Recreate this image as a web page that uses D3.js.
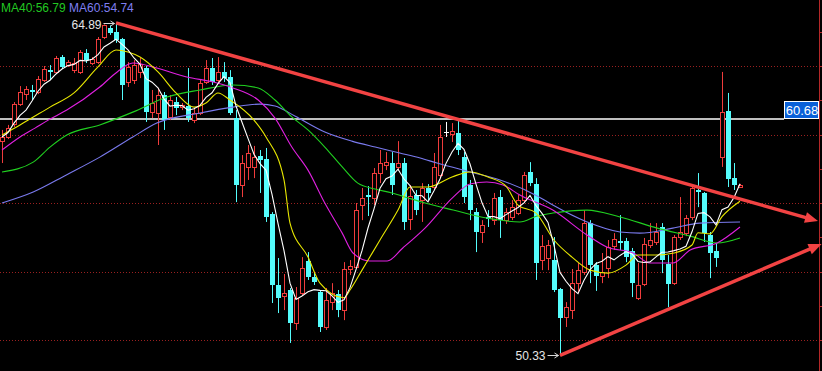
<!DOCTYPE html>
<html>
<head>
<meta charset="utf-8">
<script src="https://cdn.jsdelivr.net/npm/d3@7"></script>
<style>
  html, body { margin: 0; padding: 0; background: #000; overflow: hidden; }
  svg { display: block; }
</style>
</head>
<body>
<div id="chart"></div>
<script>
// candle data (one entry per bar)
const opens = [59.71,59.89,60.46,61.33,61.77,61.95,61.86,62.39,62.82,62.74, 63.39,63.04,62.82,62.74,63.57,63.13,63.17,64.27,64.66,64.49,
  64.18,62.30,62.39,62.74,62.91,60.98,60.94,61.73,60.77,61.42, 61.20,61.25,60.63,60.94,62.30,62.91,62.39,62.74,62.52,60.72,
  57.79,58.58,58.58,59.06,58.93,56.52,53.41,52.93,53.19,51.74, 53.06,54.46,53.76,53.10,51.57,52.66,53.01,52.31,54.11,54.20,
  56.91,57.35,57.22,58.31,58.66,58.75,58.58,58.75,56.30,57.35, 57.13,57.66,57.70,58.24,60.11,60.02,60.06,59.01,57.79,56.60,
  55.73,56.39,56.25,57.26,56.25,56.39,56.56,57.13,58.36,57.83, 54.50,54.59,54.50,53.23,52.00,52.31,53.49,53.98,56.12,54.28,
  53.80,54.15,55.12,55.33,55.33,54.90,52.84,53.45,55.16,55.29, 55.95,54.33,53.49,55.51,55.68,56.39,57.57,57.44,55.60,54.90,
  59.01,61.03,58.09,57.70];
const highs = [60.20,60.42,61.42,62.12,62.12,62.17,62.56,63.00,63.04,63.44, 63.48,63.26,63.35,63.70,63.74,63.39,64.27,64.82,64.78,64.89,
  64.23,63.17,63.26,63.35,63.00,61.95,62.04,61.86,61.73,61.64, 61.38,62.91,61.16,62.39,63.26,63.35,63.39,63.17,62.82,61.07,
  59.10,59.54,59.50,59.32,59.41,56.60,54.59,53.89,53.28,53.32, 54.63,54.85,53.98,53.19,53.28,53.49,53.19,54.41,54.50,57.00,
  57.66,57.74,58.53,59.32,59.23,59.23,59.71,58.97,57.79,57.57, 57.87,57.83,59.19,60.42,60.55,60.50,60.59,59.23,58.01,56.78,
  56.25,56.69,57.44,57.57,56.78,57.13,57.35,58.36,58.79,58.09, 55.60,55.38,55.51,53.28,52.66,54.11,54.37,56.69,56.25,54.41,
  54.81,55.38,55.68,56.47,55.47,55.03,54.37,55.47,56.12,56.12, 56.12,54.72,55.60,57.26,56.47,57.70,58.31,57.48,55.73,55.25,
  62.74,61.82,58.75,57.83];
const lows = [58.75,59.80,60.33,61.25,61.51,61.51,61.77,62.30,62.39,62.65, 62.87,62.96,62.69,62.65,63.13,63.04,63.09,64.18,64.36,64.01,
  61.51,62.08,62.21,62.47,60.55,60.72,59.54,60.20,60.63,60.85, 61.07,60.55,60.50,60.85,62.21,62.17,62.26,62.30,60.85,57.04,
  57.26,58.01,58.09,57.44,56.17,52.62,52.18,52.31,50.87,51.44, 52.97,53.63,53.41,51.35,51.44,52.31,52.00,51.87,53.85,54.15,
  56.25,56.43,56.91,57.87,58.44,57.35,58.44,55.82,55.82,56.47, 56.17,57.13,57.57,58.09,59.89,59.67,59.10,57.00,56.25,54.85,
  55.25,55.95,56.04,55.47,56.08,56.25,56.47,57.00,57.74,53.63, 54.06,54.06,53.10,50.33,51.57,51.92,53.06,53.85,53.49,53.15,
  53.49,53.71,54.94,54.94,54.41,52.88,52.75,53.36,55.03,55.16, 53.93,52.44,53.41,55.38,55.55,56.25,56.82,55.29,53.71,54.20,
  58.58,57.70,57.57,57.66];
const closes = [59.89,60.28,61.33,61.86,61.99,61.86,62.43,62.87,62.74,63.35, 62.96,63.17,63.13,63.61,63.26,63.31,64.18,64.80,64.44,64.14,
  62.17,62.96,63.04,63.09,60.98,61.38,61.73,60.63,61.51,61.16, 61.29,60.72,60.94,62.26,62.91,62.30,62.74,62.47,60.94,57.79,
  58.75,59.19,59.01,58.88,56.39,53.41,52.84,53.06,51.74,52.84, 54.15,53.76,53.54,51.57,52.75,53.06,52.31,54.11,54.24,56.69,
  57.22,57.26,58.31,58.75,58.79,57.79,58.75,56.17,57.31,56.69, 57.66,57.44,58.58,59.89,60.11,60.15,59.32,57.26,56.69,55.73,
  56.04,56.34,57.22,56.25,56.60,56.82,57.13,58.24,57.87,54.37, 55.12,55.16,53.19,51.96,52.44,53.49,54.06,56.12,54.28,53.80,
  53.98,55.07,55.42,55.25,54.63,53.49,53.41,55.20,55.38,55.73, 54.50,53.45,55.51,55.73,56.34,57.66,57.48,55.68,54.81,54.59,
  60.98,58.05,57.79,57.79];

// longer moving averages: [bar index, value]
const ma10 = [[0,59.98],[3,60.42],[8,61.20],[12,61.82],[16,62.96],[19,63.70],[21,63.61],[23,63.39],[26,62.74],[29,61.82],
  [32,61.20],[34,61.38],[36,61.82],[38,61.51],[42,60.63],[44,59.89],[47,58.01],[48,56.12],[51,54.63],[53,53.49],
  [57,52.85],[58,53.19],[60,54.06],[63,55.38],[66,56.69],[68,57.70],[71,57.70],[75,58.14],[78,58.36],[81,58.14],
  [84,57.74],[86,56.91],[89,56.56],[92,55.38],[95,54.63],[98,54.06],[101,53.93],[104,54.28],[106,54.72],[109,54.72],
  [112,54.81],[115,55.16],[116,55.70],[118,55.65],[120,56.40],[123,57.08]];
const ma20 = [[0,59.32],[3,59.89],[5.5,60.28],[7.7,60.63],[10.8,61.07],[16.3,62.08],[19.2,62.74],[21.8,63.13],[25.8,62.91],[30.8,62.52],
  [35.2,62.30],[38.5,62.04],[42.7,61.51],[45.5,60.72],[48.3,59.45],[51,58.44],[53.8,57.00],[56.7,55.68],[58.5,54.81],[61.3,54.46],
  [64.2,54.46],[66.8,55.03],[70.5,55.90],[75.2,57.26],[78,57.83],[80.8,57.92],[83.5,57.79],[86.3,57.35],[91.8,56.69],[97.5,55.60],
  [100.8,55.07],[105.2,54.81],[108,54.37],[111.8,54.37],[114.7,54.94],[119.2,55.25],[123,55.95]];
const ma40 = [[0,58.36],[5.2,58.79],[8,59.45],[10.8,59.98],[16.3,60.42],[21.8,60.98],[27.5,61.64],[33,61.95],[38.5,62.17],[42.7,62.04],
  [45.5,61.51],[48.3,60.77],[51,60.20],[53.8,59.45],[56.7,58.58],[59.3,57.87],[62.2,57.61],[65,57.44],[67.7,57.22],[70.5,57.00],
  [75.2,56.69],[80.8,56.34],[86.3,56.17],[89.2,56.43],[91.8,56.56],[97.5,56.69],[103,56.39],[109.2,55.90],[114.7,55.55],[119.2,55.25],
  [123,55.47]];
const ma60 = [[0,57.00],[5.2,57.48],[10.8,58.24],[16.3,59.01],[21.8,59.89],[25.8,60.50],[33,60.94],[38.5,61.20],[43,61.33],[45.5,61.25],
  [48.8,60.81],[53.8,60.11],[58.3,59.71],[62.2,59.45],[66.3,59.19],[69.7,58.97],[72.5,58.75],[78,58.36],[83,58.01],[89.2,57.31],
  [91.8,56.91],[97.5,56.17],[103,55.73],[106.3,55.68],[111.8,55.90],[116.3,56.12],[123,56.17]];

const gridPrices = [63, 60, 57, 54, 51];
const legendLabels = ["MA40:56.79", "MA60:54.74"];
const legendColors = ["#22c822", "#7f7ff0"];
const lastPrice = 60.68;
const highMark = [19, 64.89];
const lowMark = [93, 50.33];
// hand drawn trend lines, [bar index, price] start and end
const trendLines = [[[19, 64.89], [136, 56.21]], [[93, 50.33], [136.6, 55.2]]];

const W = 822, H = 371;
const upColor = "#f03c3c", downColor = "#54fcfc";

const svg = d3.select("#chart")
    .append("svg")
    .attr("width", W)
    .attr("height", H)
    .style("background", "#000");

const x = d3.scaleLinear().domain([0, opens.length - 1]).range([2, 740]);
const y = d3.scaleLinear().domain([51, 63]).range([340, 66]);

// dotted grid
svg.append("g")
    .selectAll("line")
    .data(gridPrices)
    .join("line")
    .attr("x1", 0).attr("x2", 819)
    .attr("y1", d => Math.round(y(d)) + 0.5)
    .attr("y2", d => Math.round(y(d)) + 0.5)
    .attr("stroke", "#9a2020")
    .attr("stroke-dasharray", "1,2");

// right axis line + ticks
svg.append("line")
    .attr("x1", 819.5).attr("x2", 819.5).attr("y1", 0).attr("y2", H)
    .attr("stroke", "#b42828");
svg.append("g")
    .selectAll("line")
    .data(d3.range(49.5, 66, 1.5))
    .join("line")
    .attr("x1", 819).attr("x2", 823)
    .attr("y1", d => Math.round(y(d)) + 0.5)
    .attr("y2", d => Math.round(y(d)) + 0.5)
    .attr("stroke", "#b42828");

// last price line
svg.append("line")
    .attr("x1", 0).attr("x2", 784)
    .attr("y1", y(lastPrice)).attr("y2", y(lastPrice))
    .attr("stroke", "#ffffff")
    .attr("stroke-width", 1.5);

// candles
const bars = d3.range(opens.length).map(i => ({ i, o: opens[i], h: highs[i], l: lows[i], c: closes[i] }));
const cg = svg.append("g");
bars.forEach(d => {
    const cx = Math.round(x(d.i));
    const top = Math.round(y(Math.max(d.o, d.c)));
    const bot = Math.round(y(Math.min(d.o, d.c)));
    const col = d.c > d.o ? upColor : d.c < d.o ? downColor : "#ffffff";
    if (d.c === d.o) {
        cg.append("line").attr("x1", cx + 0.5).attr("x2", cx + 0.5)
            .attr("y1", y(d.h)).attr("y2", y(d.l)).attr("stroke", col);
        cg.append("line").attr("x1", cx - 2).attr("x2", cx + 3)
            .attr("y1", top + 0.5).attr("y2", top + 0.5).attr("stroke", col);
    } else if (d.c > d.o) {
        // hollow red body, wick stops at the body
        cg.append("line").attr("x1", cx + 0.5).attr("x2", cx + 0.5)
            .attr("y1", y(d.h)).attr("y2", top).attr("stroke", col);
        cg.append("line").attr("x1", cx + 0.5).attr("x2", cx + 0.5)
            .attr("y1", bot).attr("y2", y(d.l)).attr("stroke", col);
        cg.append("rect")
            .attr("x", cx - 1.5).attr("y", top + 0.5)
            .attr("width", 4).attr("height", Math.max(1, bot - top))
            .attr("fill", "#000").attr("stroke", col);
    } else {
        cg.append("line").attr("x1", cx + 0.5).attr("x2", cx + 0.5)
            .attr("y1", y(d.h)).attr("y2", y(d.l)).attr("stroke", col);
        cg.append("rect")
            .attr("x", cx - 2).attr("y", top)
            .attr("width", 5).attr("height", Math.max(2, bot - top))
            .attr("fill", col);
    }
});

// moving averages
const ma5 = closes.map((c, i) => [i, d3.mean(closes.slice(Math.max(0, i - 4), i + 1))]);
const line = d3.line().x(d => x(d[0])).y(d => y(d[1]));
const smooth = d3.line().x(d => x(d[0])).y(d => y(d[1])).curve(d3.curveMonotoneX);

[[ma60, "#7a7aee"], [ma40, "#20d020"], [ma20, "#e020e0"], [ma10, "#e8e800"]].forEach(([s, col]) => {
    svg.append("path").attr("d", smooth(s))
        .attr("fill", "none").attr("stroke", col).attr("stroke-width", 1.1);
});
svg.append("path").attr("d", line(ma5))
    .attr("fill", "none").attr("stroke", "#ffffff").attr("stroke-width", 1.1);

// trend lines with arrow heads
trendLines.forEach(t => {
    const sx = x(t[0][0]), sy = y(t[0][1]);
    const ex = x(t[1][0]), ey = y(t[1][1]);
    const len = Math.hypot(ex - sx, ey - sy);
    const ux = (ex - sx) / len, uy = (ey - sy) / len;
    svg.append("line")
        .attr("x1", sx).attr("y1", sy)
        .attr("x2", ex - ux * 8).attr("y2", ey - uy * 8)
        .attr("stroke", "#f24343").attr("stroke-width", 3.5);
    const bx = ex - ux * 13, by = ey - uy * 13;
    svg.append("path")
        .attr("d", `M${ex},${ey}L${bx - uy * 5.5},${by + ux * 5.5}L${bx + uy * 5.5},${by - ux * 5.5}Z`)
        .attr("fill", "#f24343");
});

// high / low markers
function mark(m, dy) {
    const mx = x(m[0]) - 0.5, my = Math.round(y(m[1])) + 0.5;
    svg.append("line").attr("x1", mx - 12).attr("x2", mx - 1).attr("y1", my).attr("y2", my)
        .attr("stroke", "#d8d8d8");
    svg.append("path").attr("d", `M${mx - 5},${my - 2.5}L${mx - 1},${my}L${mx - 5},${my + 2.5}`)
        .attr("fill", "none").attr("stroke", "#d8d8d8");
    svg.append("text")
        .attr("x", mx - 14).attr("y", my + dy)
        .attr("text-anchor", "end")
        .attr("fill", "#e6e6e6")
        .style("font", "12px 'Liberation Sans', Arial, sans-serif")
        .text(m[1].toFixed(2));
}
mark(highMark, 5);
mark(lowMark, 4.5);

// last price tag
svg.append("rect")
    .attr("x", 784.5).attr("y", 101.5).attr("width", 34).attr("height", 17)
    .attr("fill", "#0a60d8").attr("stroke", "#ffffff");
svg.append("text")
    .attr("x", 802).attr("y", 115)
    .attr("text-anchor", "middle")
    .attr("fill", "#ffffff")
    .style("font", "13px 'Liberation Sans', Arial, sans-serif")
    .text(lastPrice.toFixed(2));

// legend
const lg = svg.append("text")
    .attr("x", 1).attr("y", 12)
    .style("font", "12px 'Liberation Sans', Arial, sans-serif");
legendLabels.forEach((t, k) => {
    lg.append("tspan").attr("fill", legendColors[k]).text((k ? "  " : "") + t);
});
</script>
</body>
</html>
